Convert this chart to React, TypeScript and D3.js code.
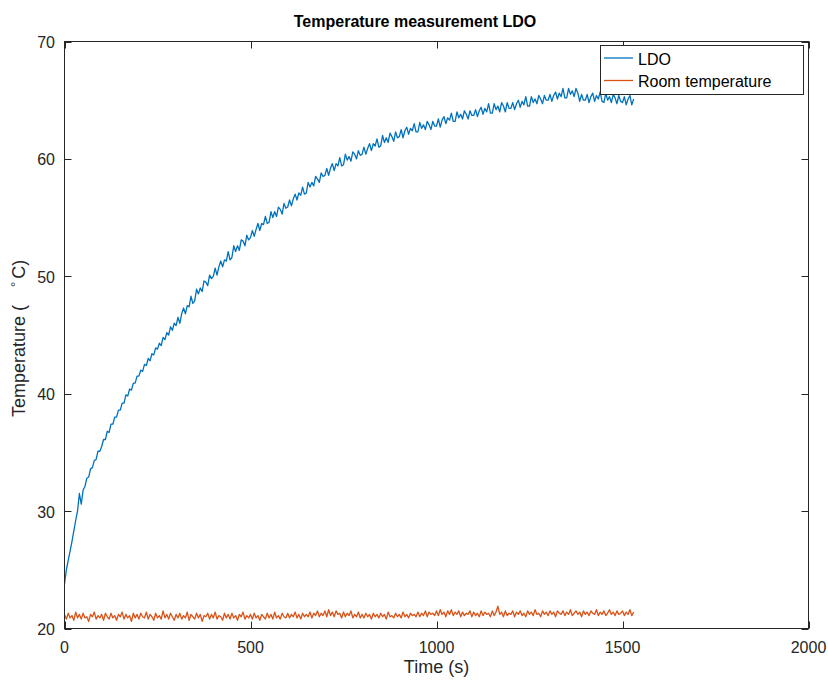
import React from 'react';
import * as d3 from 'd3';

const TITLE = 'Temperature measurement LDO';
const X_LABEL = 'Time (s)';
const X_TICKS = [0, 500, 1000, 1500, 2000];
const Y_TICKS = [20, 30, 40, 50, 60, 70];
const X_DOMAIN = [0, 2000];
const Y_DOMAIN = [20, 70];
const SERIES_NAMES = ['LDO', 'Room temperature'];
const SERIES_COLORS = ['#0072BD', '#D95319'];
const SAMPLE_STEP_S = 5;

// LDO temperature (°C), one reading every 5 s starting at t = 0
const ldoTemp = [
  23.8, 25.0, 25.8, 26.6, 27.4, 28.3, 29.2, 30.0, 31.5, 30.6,
  31.8, 32.1, 32.8, 32.9, 33.6, 33.7, 34.3, 34.4, 35.1, 35.1,
  35.5, 36.1, 36.1, 36.8, 36.7, 37.4, 37.4, 38.0, 38.0, 38.6,
  38.6, 39.2, 39.2, 39.9, 39.8, 40.4, 40.3, 40.9, 40.9, 41.5,
  41.5, 42.0, 41.9, 42.5, 42.4, 43.0, 42.8, 43.4, 43.3, 43.9,
  43.8, 44.3, 44.1, 44.8, 44.6, 45.2, 45.0, 45.7, 45.4, 46.0,
  45.8, 46.5, 46.0, 46.8, 47.3, 46.8, 47.5, 47.4, 48.3, 47.7,
  47.9, 48.9, 48.5, 49.0, 48.7, 49.6, 49.5, 49.2, 50.1, 49.8,
  50.0, 50.7, 50.1, 50.8, 51.3, 50.8, 51.4, 51.3, 52.1, 51.4,
  51.6, 52.6, 52.1, 52.6, 52.2, 53.1, 53.0, 52.6, 53.5, 53.1,
  53.3, 53.9, 53.4, 54.0, 54.5, 53.9, 54.5, 54.4, 55.1, 54.5,
  54.6, 55.5, 55.0, 55.5, 55.1, 55.9, 55.7, 55.3, 56.2, 55.8,
  55.9, 56.5, 56.0, 56.6, 57.0, 56.5, 57.1, 56.9, 57.6, 57.0,
  57.1, 58.0, 57.6, 58.0, 57.7, 58.5, 58.3, 58.0, 58.8, 58.5,
  58.6, 59.2, 58.6, 59.2, 59.6, 59.0, 59.6, 59.4, 60.1, 59.4,
  59.5, 60.4, 59.9, 60.2, 59.8, 60.6, 60.4, 60.0, 60.7, 60.3,
  60.4, 61.0, 60.4, 60.9, 61.3, 60.7, 61.3, 61.1, 61.7, 61.0,
  61.1, 62.0, 61.4, 61.8, 61.4, 62.2, 61.9, 61.5, 62.3, 61.8,
  61.9, 62.5, 61.8, 62.4, 62.7, 62.1, 62.6, 62.4, 63.0, 62.3,
  62.3, 63.1, 62.6, 62.9, 62.5, 63.2, 62.9, 62.5, 63.2, 62.8,
  62.8, 63.4, 62.7, 63.3, 63.6, 63.0, 63.5, 63.3, 63.9, 63.2,
  63.2, 64.0, 63.5, 63.8, 63.4, 64.1, 63.8, 63.4, 64.1, 63.7,
  63.7, 64.2, 63.6, 64.1, 64.4, 63.8, 64.3, 64.0, 64.7, 63.9,
  63.9, 64.7, 64.2, 64.5, 64.0, 64.8, 64.5, 64.0, 64.8, 64.3,
  64.3, 64.8, 64.2, 64.7, 65.0, 64.4, 64.9, 64.6, 65.3, 64.5,
  64.5, 65.3, 64.8, 65.1, 64.7, 65.4, 65.1, 64.7, 65.4, 65.0,
  65.0, 65.5, 64.9, 65.4, 65.7, 65.1, 65.6, 65.3, 66.0, 65.2,
  65.2, 66.0, 65.5, 65.8, 65.3, 66.0, 65.6, 64.9, 65.5, 65.0,
  65.0, 65.5, 64.8, 65.3, 65.6, 64.9, 65.4, 65.1, 65.7, 64.9,
  64.8, 65.6, 65.0, 65.3, 64.8, 65.5, 65.2, 64.7, 65.4, 64.9,
  64.8, 65.3, 64.6, 65.1, 65.4, 64.6, 65.1,
];

// Room temperature (°C), one reading every 5 s starting at t = 0
const roomTemp = [
  21.2, 20.8, 21.3, 20.9, 21.1, 20.7, 21.4, 20.9, 21.2, 20.8,
  21.3, 20.9, 21.0, 20.6, 21.2, 21.0, 21.4, 20.8, 21.1, 20.9,
  21.2, 20.7, 21.3, 21.0, 20.8, 21.3, 20.9, 21.1, 20.7, 21.2,
  21.0, 21.4, 20.8, 21.2, 20.9, 21.1, 20.6, 21.3, 20.9, 21.2,
  20.8, 21.3, 21.0, 20.9, 21.4, 20.8, 21.2, 21.0, 20.7, 21.3,
  20.9, 21.1, 20.8, 21.5, 20.9, 21.2, 20.8, 21.3, 21.0, 20.7,
  21.2, 20.9, 21.3, 20.8, 21.1, 20.9, 21.4, 20.7, 21.2, 21.0,
  20.8, 21.3, 20.9, 21.2, 20.6, 21.1, 21.0, 21.3, 20.8, 21.2,
  20.9, 21.4, 20.8, 21.1, 21.0, 20.7, 21.3, 20.9, 21.2, 20.8,
  21.3, 20.9, 21.1, 20.7, 21.2, 21.0, 21.4, 20.8, 21.1, 20.9,
  21.2, 20.8, 21.3, 20.9, 21.1, 20.7, 21.2, 21.0, 20.8, 21.3,
  20.9, 21.2, 20.8, 21.4, 20.9, 21.1, 20.8, 21.3, 21.0, 20.9,
  21.3, 20.9, 21.2, 21.0, 21.4, 20.9, 21.2, 20.8, 21.3, 21.0,
  21.2, 21.0, 21.4, 20.9, 21.3, 21.1, 21.5, 21.0, 21.3, 21.1,
  21.5, 21.0, 21.6, 21.1, 21.4, 21.0, 21.5, 21.2, 21.3, 20.9,
  21.4, 21.0, 21.3, 21.1, 21.5, 20.9, 21.2, 21.0, 21.4, 20.9,
  21.2, 20.9, 21.3, 21.0, 21.2, 20.8, 21.3, 21.0, 21.2, 20.9,
  21.3, 21.0, 21.2, 20.8, 21.4, 21.0, 21.1, 20.9, 21.3, 21.0,
  21.2, 20.9, 21.4, 21.0, 21.2, 20.9, 21.3, 21.1, 21.2, 21.0,
  21.4, 21.0, 21.3, 21.1, 21.5, 21.0, 21.4, 21.2, 21.3, 21.1,
  21.5, 21.1, 21.6, 21.2, 21.4, 21.0, 21.5, 21.2, 21.6, 21.1,
  21.4, 21.2, 21.5, 21.0, 21.4, 21.1, 21.3, 21.2, 21.5, 21.0,
  21.4, 21.1, 21.3, 21.0, 21.5, 21.1, 21.4, 21.2, 21.3, 21.0,
  21.5, 21.1, 21.4, 21.9, 21.2, 21.4, 21.0, 21.5, 21.1, 21.3,
  21.2, 21.5, 21.0, 21.4, 21.2, 21.5, 21.1, 21.3, 21.0, 21.5,
  21.2, 21.4, 21.1, 21.6, 21.2, 21.3, 21.0, 21.5, 21.2, 21.4,
  21.1, 21.5, 21.2, 21.4, 21.0, 21.5, 21.3, 21.2, 21.5, 21.1,
  21.4, 21.2, 21.6, 21.1, 21.3, 21.5, 21.2, 21.4, 21.0, 21.5,
  21.2, 21.4, 21.1, 21.5, 21.3, 21.2, 21.6, 21.1, 21.4, 21.2,
  21.5, 21.1, 21.3, 21.6, 21.2, 21.4, 21.1, 21.5, 21.2, 21.3,
  21.5, 21.1, 21.4, 21.2, 21.6, 21.1, 21.4,
];

const SERIES = [ldoTemp, roomTemp];

const FONT = '"Liberation Sans", Arial, Helvetica, sans-serif';
const INK = '#262626';

export default function App() {
  const W = 828;
  const H = 680;
  const left = 64.5;
  const right = 808.5;
  const top = 41.5;
  const bottom = 628.5;
  const tickLen = 7;

  const x = d3.scaleLinear().domain(X_DOMAIN).range([left, right]);
  const y = d3.scaleLinear().domain(Y_DOMAIN).range([bottom, top]);

  const line = d3
    .line<number>()
    .x((_, i) => x(i * SAMPLE_STEP_S))
    .y((d) => y(d));

  const legend = { x: 600.5, y: 45.5, w: 203, h: 49 };
  const legendRows = [58, 80.5];

  return (
    <svg
      width={W}
      height={H}
      style={{ position: 'absolute', left: 0, top: 0, background: '#fff' }}
      fontFamily={FONT}
    >
      <rect x={0} y={0} width={W} height={H} fill="#fff" />

      {/* data */}
      {SERIES.map((s, i) => (
        <path
          key={SERIES_NAMES[i]}
          d={line(s) || ''}
          fill="none"
          stroke={SERIES_COLORS[i]}
          strokeWidth={1.3}
          strokeLinejoin="round"
        />
      ))}

      {/* axes box */}
      <rect
        x={left}
        y={top}
        width={right - left}
        height={bottom - top}
        fill="none"
        stroke={INK}
        strokeWidth={1}
      />

      {/* x ticks */}
      {X_TICKS.map((t) => {
        const px = Math.round(x(t)) + 0.5;
        return (
          <g key={'x' + t}>
            <line x1={px} x2={px} y1={bottom} y2={bottom - tickLen} stroke={INK} />
            <line x1={px} x2={px} y1={top} y2={top + tickLen} stroke={INK} />
            <text
              x={x(t)}
              y={653}
              textAnchor="middle"
              fontSize={16}
              fill={INK}
            >
              {t}
            </text>
          </g>
        );
      })}

      {/* y ticks */}
      {Y_TICKS.map((t) => {
        const py = Math.round(y(t)) + 0.5;
        return (
          <g key={'y' + t}>
            <line x1={left} x2={left + tickLen} y1={py} y2={py} stroke={INK} />
            <line x1={right} x2={right - tickLen} y1={py} y2={py} stroke={INK} />
            <text
              x={55}
              y={y(t) + 6.5}
              textAnchor="end"
              fontSize={16}
              fill={INK}
            >
              {t}
            </text>
          </g>
        );
      })}

      {/* title */}
      <text
        x={415}
        y={27}
        textAnchor="middle"
        fontSize={16}
        fontWeight="bold"
        fill="#000"
      >
        {TITLE}
      </text>

      {/* x label */}
      <text x={436.5} y={673} textAnchor="middle" fontSize={18} fill={INK}>
        {X_LABEL}
      </text>

      {/* y label */}
      <text transform="translate(25,417) rotate(-90)" fontSize={18} fill={INK}>
        Temperature (
        <tspan dx={18} dy={-5} fontSize={13}>
          °
        </tspan>
        <tspan dx={3} dy={5}>
          C)
        </tspan>
      </text>

      {/* legend */}
      <rect
        x={legend.x}
        y={legend.y}
        width={legend.w}
        height={legend.h}
        fill="#fff"
        stroke={INK}
        strokeWidth={1}
      />
      {SERIES_NAMES.map((name, i) => (
        <g key={'leg' + name}>
          <line
            x1={604}
            x2={633}
            y1={legendRows[i]}
            y2={legendRows[i]}
            stroke={SERIES_COLORS[i]}
            strokeWidth={1.3}
          />
          <text x={638} y={legendRows[i] + 6.5} fontSize={16} fill="#000">
            {name}
          </text>
        </g>
      ))}
    </svg>
  );
}
